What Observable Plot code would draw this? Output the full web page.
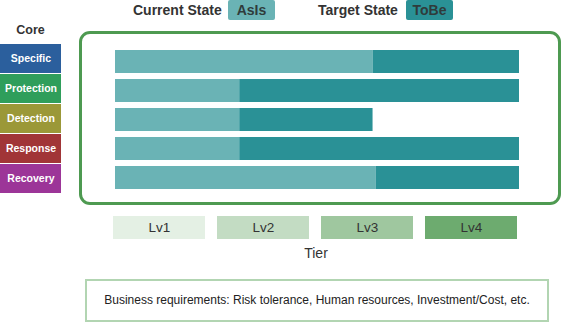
<!DOCTYPE html>
<html>
<head>
<meta charset="utf-8">
<script src="https://cdn.jsdelivr.net/npm/d3@7"></script>
<script src="https://cdn.jsdelivr.net/npm/@observablehq/plot@0.6"></script>
<style>
  html, body { margin: 0; padding: 0; background: #fff; }
  #wrap { position: relative; width: 564px; height: 322px; font-family: "Liberation Sans", Arial, sans-serif; color: #333; overflow: hidden; }
  .abs { position: absolute; }
  .legtxt { font-size: 14px; font-weight: bold; color: #333; line-height: 20px; }
  .legbox { font-size: 14px; font-weight: bold; color: #2f3b3b; line-height: 20px; text-align: center; border-radius: 2px; }
  #frame { left: 79px; top: 31px; width: 476px; height: 168px; border: 3px solid #4e9a51; border-radius: 11px; }
  #biz { left: 85px; top: 279px; width: 460px; height: 39px; border: 2px solid #b2d5b2; font-size: 12px; text-align: center; line-height: 39px; color: #222; }
</style>
</head>
<body>
<div id="wrap"></div>
<script>
const cores = ["Specific", "Protection", "Detection", "Response", "Recovery"];
const coreColors = ["#2b5f9d", "#2f9e5b", "#9b9838", "#a13537", "#9c3598"];
const asIs = [2.55, 1.23, 1.23, 1.23, 2.58];
const toBe = [4, 4, 2.55, 4, 4];
const tiers = ["Lv1", "Lv2", "Lv3", "Lv4"];
const tierColors = ["#e4f0e4", "#c3dcc3", "#9fc79f", "#6dab6f"];
const legendLabels = ["Current State", "Target State"];
const legendKeys = ["AsIs", "ToBe"];
const stateColors = ["#6ab3b5", "#2a9196"];
const tierTitle = "Tier";
const coreTitle = "Core";
const note = "Business requirements: Risk tolerance, Human resources, Investment/Cost, etc.";

const wrap = document.getElementById("wrap");
function addDiv(cls, style, text) {
  const d = document.createElement("div");
  d.className = cls;
  Object.assign(d.style, style);
  if (text != null) d.textContent = text;
  wrap.appendChild(d);
  return d;
}

// Legend
addDiv("abs legtxt", {left: "133px", top: "0px"}, legendLabels[0]);
addDiv("abs legbox", {left: "228px", top: "0px", width: "47px", height: "20px", background: stateColors[0]}, legendKeys[0]);
addDiv("abs legtxt", {left: "318px", top: "0px"}, legendLabels[1]);
addDiv("abs legbox", {left: "406px", top: "0px", width: "47px", height: "20px", background: stateColors[1]}, legendKeys[1]);

// Core title
addDiv("abs", {left: "0px", top: "23px", width: "61px", textAlign: "center", fontSize: "12.5px", fontWeight: "bold", color: "#333"}, coreTitle);

// Green frame
const fr = addDiv("abs", {});
fr.id = "frame";

// Core labels
const coreData = cores.map((c, i) => ({core: c, color: coreColors[i]}));
const corePlot = Plot.plot({
  width: 61, height: 150,
  marginTop: 0, marginBottom: 0, marginLeft: 0, marginRight: 0,
  y: {domain: cores, axis: null, paddingInner: 0.034, paddingOuter: 0},
  marks: [
    Plot.cell(coreData, {y: "core", fill: "color"}),
    Plot.text(coreData, {y: "core", text: "core", fill: "white", fontWeight: "bold", fontSize: 10.5, style: "letter-spacing: 1.2px;"})
  ],
  style: {fontFamily: "'Liberation Sans', Arial, sans-serif", background: "transparent"}
});
corePlot.style.position = "absolute";
corePlot.style.left = "0px";
corePlot.style.top = "43px";
wrap.appendChild(corePlot);

// Bars
const rows = cores.map((c, i) => ({core: c, asIs: asIs[i], toBe: toBe[i]}));
const barPlot = Plot.plot({
  width: 564, height: 322,
  marginLeft: 115, marginRight: 45, marginTop: 49, marginBottom: 133,
  x: {domain: [0, 4], axis: null},
  y: {domain: cores, axis: null, paddingInner: 0.214, paddingOuter: 0},
  marks: [
    Plot.barX(rows, {y: "core", x1: 0, x2: "asIs", fill: stateColors[0]}),
    Plot.barX(rows, {y: "core", x1: "asIs", x2: "toBe", fill: stateColors[1]})
  ],
  style: {background: "transparent"}
});
barPlot.style.position = "absolute";
barPlot.style.left = "0px";
barPlot.style.top = "0px";
wrap.appendChild(barPlot);

// Tiers
const tierData = tiers.map((t, i) => ({tier: t, color: tierColors[i]}));
const tierPlot = Plot.plot({
  width: 564, height: 23,
  marginLeft: 113, marginRight: 46, marginTop: 0, marginBottom: 0,
  x: {domain: tiers, axis: null, paddingInner: 0.112, paddingOuter: 0},
  marks: [
    Plot.cell(tierData, {x: "tier", fill: "color"}),
    Plot.text(tierData, {x: "tier", text: "tier", fill: "#333", fontSize: 13.5})
  ],
  style: {fontFamily: "'Liberation Sans', Arial, sans-serif", background: "transparent"}
});
tierPlot.style.position = "absolute";
tierPlot.style.left = "0px";
tierPlot.style.top = "216px";
wrap.appendChild(tierPlot);

addDiv("abs", {left: "266px", top: "245px", width: "100px", textAlign: "center", fontSize: "14px", color: "#333"}, tierTitle);

// Business note
const biz = addDiv("abs", {}, note);
biz.id = "biz";
</script>
</body>
</html>
